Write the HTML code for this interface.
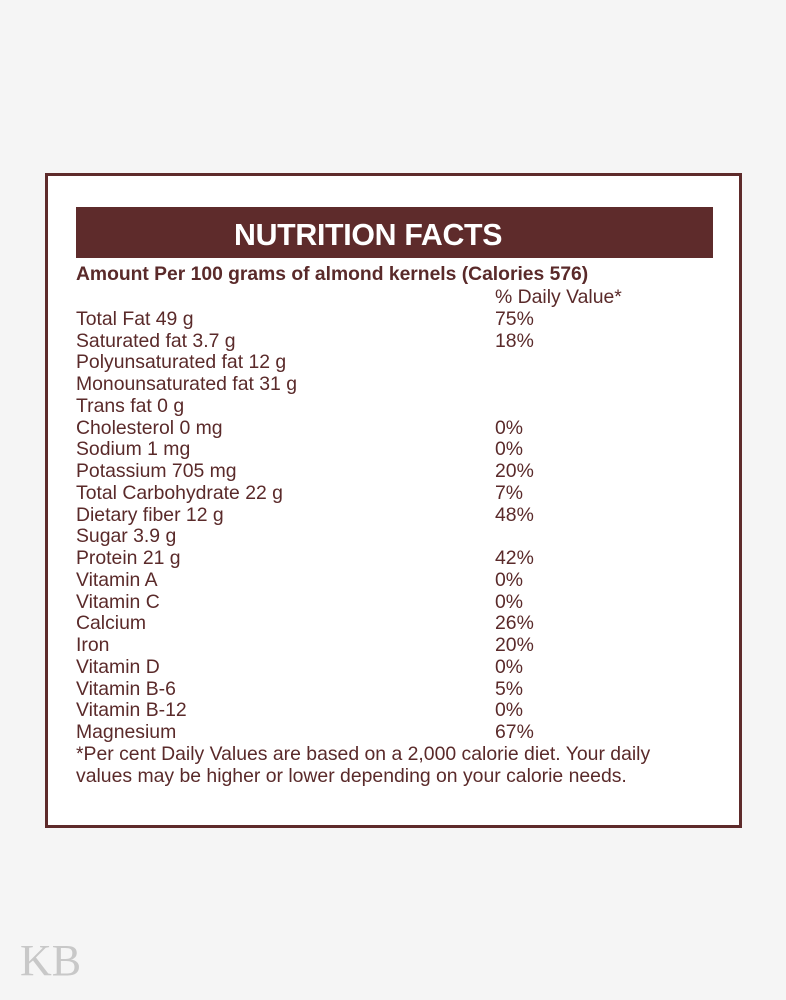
<!DOCTYPE html>
<html><head><style>
body{margin:0;width:786px;height:1000px;background:#f5f5f5;position:relative;font-family:"Liberation Sans",sans-serif;color:#5a2a2a;overflow:hidden}
.box{position:absolute;left:45px;top:173px;width:691px;height:649px;border:3px solid #5e2b2b;background:#fff}
.hdr{position:absolute;left:76px;top:207px;width:637px;height:51px;background:#5e2b2b}
.ttl{position:absolute;left:234px;top:219px;font-size:30.3px;font-weight:bold;color:#fff;white-space:nowrap;letter-spacing:-0.3px}
.amt{position:absolute;left:76px;top:264px;font-size:19.3px;font-weight:bold;white-space:nowrap}
.rows{position:absolute;left:76px;top:287px;font-size:19.4px;line-height:21.75px;width:640px}
.r{height:21.75px;position:relative;white-space:nowrap}
.r span{position:absolute;left:419px}
.kb{position:absolute;left:20px;top:935px;font-family:"Liberation Serif",serif;font-size:44px;color:#c8c8c8}
</style></head><body>
<div class="box"></div>
<div class="hdr"></div>
<div class="ttl">NUTRITION FACTS</div>
<div class="amt">Amount Per 100 grams of almond kernels (Calories 576)</div>
<div class="rows">
<div class="r"><span>% Daily Value*</span></div>
<div class="r">Total Fat 49 g<span>75%</span></div>
<div class="r">Saturated fat 3.7 g<span>18%</span></div>
<div class="r">Polyunsaturated fat 12 g</div>
<div class="r">Monounsaturated fat 31 g</div>
<div class="r">Trans fat 0 g</div>
<div class="r">Cholesterol 0 mg<span>0%</span></div>
<div class="r">Sodium 1 mg<span>0%</span></div>
<div class="r">Potassium 705 mg<span>20%</span></div>
<div class="r">Total Carbohydrate 22 g<span>7%</span></div>
<div class="r">Dietary fiber 12 g<span>48%</span></div>
<div class="r">Sugar 3.9 g</div>
<div class="r">Protein 21 g<span>42%</span></div>
<div class="r">Vitamin A<span>0%</span></div>
<div class="r">Vitamin C<span>0%</span></div>
<div class="r">Calcium<span>26%</span></div>
<div class="r">Iron<span>20%</span></div>
<div class="r">Vitamin D<span>0%</span></div>
<div class="r">Vitamin B-6<span>5%</span></div>
<div class="r">Vitamin B-12<span>0%</span></div>
<div class="r">Magnesium<span>67%</span></div>
<div class="r">*Per cent Daily Values are based on a 2,000 calorie diet. Your daily</div>
<div class="r">values may be higher or lower depending on your calorie needs.</div>
</div>
<div class="kb">KB</div>
</body></html>
